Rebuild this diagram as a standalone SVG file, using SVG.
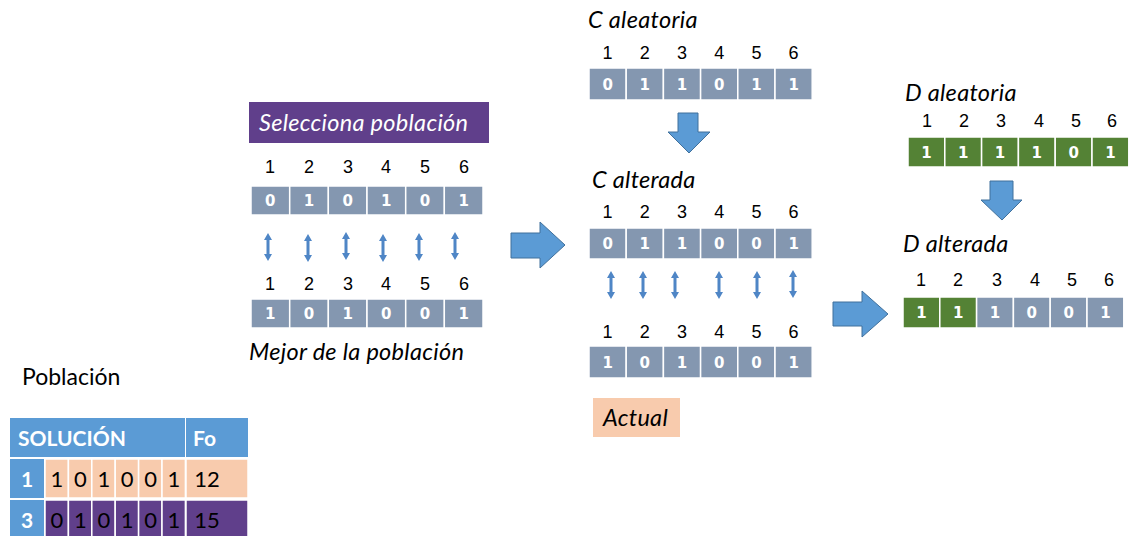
<svg xmlns="http://www.w3.org/2000/svg" xmlns:xlink="http://www.w3.org/1999/xlink" width="1130" height="536" viewBox="0 0 1130 536">
<style>
.cell{fill:#8497b0;stroke:#fff;stroke-width:1.5}
.gcell{fill:#548235;stroke:#fff;stroke-width:1.5}
.val{font-family:"DejaVu Sans",sans-serif;font-weight:bold;font-size:15px;fill:#fff;text-anchor:middle}
.idx{font-family:"Liberation Sans",Arial,sans-serif;font-size:18px;fill:#000;text-anchor:middle}
.ital{font-family:Lato,"Liberation Sans",sans-serif;font-style:italic;font-size:23.5px;letter-spacing:0.3px;fill:#000}
.big{fill:#5b9bd5;stroke:#41719c;stroke-width:1}
.dbl{fill:#4f86c6}
.th{font-family:Lato,"Liberation Sans",sans-serif;font-weight:bold;font-size:21px;fill:#fff}
.td{font-family:Lato,"Liberation Sans",sans-serif;font-size:22px;fill:#000;text-anchor:middle}
</style>
<defs>
<path id="da" d="M0,0 L4,7 L1.5,7 L1.5,21 L4,21 L0,28 L-4,21 L-1.5,21 L-1.5,7 L-4,7 Z"/>
</defs>
<rect width="1130" height="536" fill="#fff"/>

<g id="selecciona">
<rect x="249" y="102" width="240" height="41" fill="#603f8b"/>
<text x="259" y="131" class="ital" style="fill:#fff">Selecciona población</text>
</g>

<g id="array-seleccion">
<g class="idx"><text x="270" y="173">1</text><text x="309" y="173">2</text><text x="348" y="173">3</text><text x="386" y="173">4</text><text x="425" y="173">5</text><text x="464" y="173">6</text></g>
<rect class="cell" x="251" y="186" width="38.7" height="29"/><rect class="cell" x="289.7" y="186" width="38.7" height="29"/><rect class="cell" x="328.3" y="186" width="38.7" height="29"/><rect class="cell" x="367" y="186" width="38.7" height="29"/><rect class="cell" x="405.7" y="186" width="38.7" height="29"/><rect class="cell" x="444.3" y="186" width="38.7" height="29"/>
<g class="val"><text x="270.3" y="206">0</text><text x="309" y="206">1</text><text x="347.7" y="206">0</text><text x="386.3" y="206">1</text><text x="425" y="206">0</text><text x="463.7" y="206">1</text></g>
</g>

<g id="array-mejor">
<g class="idx"><text x="270" y="290">1</text><text x="309" y="290">2</text><text x="348" y="290">3</text><text x="386" y="290">4</text><text x="425" y="290">5</text><text x="464" y="290">6</text></g>
<rect class="cell" x="251" y="299" width="38.7" height="29"/><rect class="cell" x="289.7" y="299" width="38.7" height="29"/><rect class="cell" x="328.3" y="299" width="38.7" height="29"/><rect class="cell" x="367" y="299" width="38.7" height="29"/><rect class="cell" x="405.7" y="299" width="38.7" height="29"/><rect class="cell" x="444.3" y="299" width="38.7" height="29"/>
<g class="val"><text x="270.3" y="319">1</text><text x="309" y="319">0</text><text x="347.7" y="319">1</text><text x="386.3" y="319">0</text><text x="425" y="319">0</text><text x="463.7" y="319">1</text></g>
<text x="249" y="360" class="ital">Mejor de la población</text>
</g>

<g id="c-aleatoria">
<text x="588" y="28" class="ital">C aleatoria</text>
<g class="idx"><text x="607.6" y="59">1</text><text x="644.8" y="59">2</text><text x="682" y="59">3</text><text x="719.2" y="59">4</text><text x="756.4" y="59">5</text><text x="793.6" y="59">6</text></g>
<rect class="cell" x="589" y="68" width="37.2" height="32"/><rect class="cell" x="626.2" y="68" width="37.2" height="32"/><rect class="cell" x="663.4" y="68" width="37.2" height="32"/><rect class="cell" x="700.6" y="68" width="37.2" height="32"/><rect class="cell" x="737.8" y="68" width="37.2" height="32"/><rect class="cell" x="775" y="68" width="37.2" height="32"/>
<g class="val"><text x="607.6" y="89.5">0</text><text x="644.8" y="89.5">1</text><text x="682" y="89.5">1</text><text x="719.2" y="89.5">0</text><text x="756.4" y="89.5">1</text><text x="793.6" y="89.5">1</text></g>
</g>

<g id="c-alterada">
<text x="592" y="188" class="ital">C alterada</text>
<g class="idx"><text x="607.6" y="218">1</text><text x="644.8" y="218">2</text><text x="682" y="218">3</text><text x="719.2" y="218">4</text><text x="756.4" y="218">5</text><text x="793.6" y="218">6</text></g>
<rect class="cell" x="589" y="228" width="37.2" height="31"/><rect class="cell" x="626.2" y="228" width="37.2" height="31"/><rect class="cell" x="663.4" y="228" width="37.2" height="31"/><rect class="cell" x="700.6" y="228" width="37.2" height="31"/><rect class="cell" x="737.8" y="228" width="37.2" height="31"/><rect class="cell" x="775" y="228" width="37.2" height="31"/>
<g class="val"><text x="607.6" y="249">0</text><text x="644.8" y="249">1</text><text x="682" y="249">1</text><text x="719.2" y="249">0</text><text x="756.4" y="249">0</text><text x="793.6" y="249">1</text></g>
</g>

<g id="actual-array">
<g class="idx"><text x="607.6" y="338">1</text><text x="644.8" y="338">2</text><text x="682" y="338">3</text><text x="719.2" y="338">4</text><text x="756.4" y="338">5</text><text x="793.6" y="338">6</text></g>
<rect class="cell" x="589" y="346" width="37.2" height="32"/><rect class="cell" x="626.2" y="346" width="37.2" height="32"/><rect class="cell" x="663.4" y="346" width="37.2" height="32"/><rect class="cell" x="700.6" y="346" width="37.2" height="32"/><rect class="cell" x="737.8" y="346" width="37.2" height="32"/><rect class="cell" x="775" y="346" width="37.2" height="32"/>
<g class="val"><text x="607.6" y="367.5">1</text><text x="644.8" y="367.5">0</text><text x="682" y="367.5">1</text><text x="719.2" y="367.5">0</text><text x="756.4" y="367.5">0</text><text x="793.6" y="367.5">1</text></g>
</g>

<g id="actual">
<rect x="593" y="398" width="87" height="39" fill="#f8cbad"/>
<text x="603" y="426" class="ital">Actual</text>
</g>

<g id="d-aleatoria">
<text x="905" y="101" class="ital">D aleatoria</text>
<g class="idx"><text x="927" y="127">1</text><text x="964" y="127">2</text><text x="1001" y="127">3</text><text x="1039" y="127">4</text><text x="1076" y="127">5</text><text x="1112" y="127">6</text></g>
<rect class="gcell" x="908" y="137" width="36.8" height="30"/><rect class="gcell" x="944.8" y="137" width="36.8" height="30"/><rect class="gcell" x="981.6" y="137" width="36.8" height="30"/><rect class="gcell" x="1018.4" y="137" width="36.8" height="30"/><rect class="gcell" x="1055.2" y="137" width="36.8" height="30"/><rect class="gcell" x="1092" y="137" width="36.8" height="30"/>
<g class="val"><text x="926.4" y="157.5">1</text><text x="963.2" y="157.5">1</text><text x="1000" y="157.5">1</text><text x="1036.8" y="157.5">1</text><text x="1073.6" y="157.5">0</text><text x="1110.4" y="157.5">1</text></g>
</g>

<g id="d-alterada">
<text x="903" y="252" class="ital">D alterada</text>
<g class="idx"><text x="921" y="286">1</text><text x="958" y="286">2</text><text x="997" y="286">3</text><text x="1035" y="286">4</text><text x="1072" y="286">5</text><text x="1109" y="286">6</text></g>
<rect class="gcell" x="903" y="297" width="36.8" height="31"/><rect class="gcell" x="939.8" y="297" width="36.8" height="31"/><rect class="cell" x="976.6" y="297" width="36.8" height="31"/><rect class="cell" x="1013.4" y="297" width="36.8" height="31"/><rect class="cell" x="1050.2" y="297" width="36.8" height="31"/><rect class="cell" x="1087" y="297" width="36.8" height="31"/>
<g class="val"><text x="921.4" y="318">1</text><text x="958.2" y="318">1</text><text x="995" y="318">1</text><text x="1031.8" y="318">0</text><text x="1068.6" y="318">0</text><text x="1105.4" y="318">1</text></g>
</g>

<g id="poblacion">
<text x="22" y="385" style="font-family:Lato,'Liberation Sans',sans-serif;font-size:23px;fill:#000">Población</text>
<rect x="10" y="418" width="175" height="39" fill="#5b9bd5"/>
<rect x="186" y="418" width="62" height="39" fill="#5b9bd5"/>
<text x="18" y="446" class="th">SOLUCIÓN</text>
<text x="193" y="446" class="th">Fo</text>
<rect x="10" y="459" width="34" height="39" fill="#5b9bd5"/>
<g fill="#f8cbad" stroke="#fff" stroke-width="1.5">
<rect x="45" y="459" width="23.4" height="39"/><rect x="68.4" y="459" width="23.4" height="39"/><rect x="91.8" y="459" width="23.4" height="39"/><rect x="115.2" y="459" width="23.4" height="39"/><rect x="138.6" y="459" width="23.4" height="39"/><rect x="162" y="459" width="23.4" height="39"/><rect x="186" y="459" width="62" height="39"/>
</g>
<text x="21" y="487" class="th">1</text>
<g class="td"><text x="57" y="487">1</text><text x="80.4" y="487">0</text><text x="103.8" y="487">1</text><text x="127.2" y="487">0</text><text x="150.6" y="487">0</text><text x="174" y="487">1</text><text x="207" y="487">12</text></g>
<rect x="10" y="500" width="34" height="36" fill="#5b9bd5"/>
<g fill="#603f8b" stroke="#fff" stroke-width="1.5">
<rect x="45" y="500" width="23.4" height="40"/><rect x="68.4" y="500" width="23.4" height="40"/><rect x="91.8" y="500" width="23.4" height="40"/><rect x="115.2" y="500" width="23.4" height="40"/><rect x="138.6" y="500" width="23.4" height="40"/><rect x="162" y="500" width="23.4" height="40"/><rect x="186" y="500" width="62" height="40"/>
</g>
<text x="21" y="528" class="th">3</text>
<g class="td"><text x="57" y="528">0</text><text x="80.4" y="528">1</text><text x="103.8" y="528">0</text><text x="127.2" y="528">1</text><text x="150.6" y="528">0</text><text x="174" y="528">1</text><text x="207" y="528">15</text></g>
</g>

<g id="connectors">
<polygon class="big" points="511,233 540,233 540,222 565,245 540,268 540,258 511,258"/>
<polygon class="big" points="833,302 862,302 862,291 888,314 862,337 862,326 833,326"/>
<polygon class="big" points="678,113 698,113 698,132 710,132 689,153 668,132 678,132"/>
<polygon class="big" points="990,181 1013,181 1013,200 1022,200 1002,220 981,200 990,200"/>
<g class="dbl">
<use xlink:href="#da" x="268" y="233"/><use xlink:href="#da" x="308" y="234"/><use xlink:href="#da" x="346" y="232"/><use xlink:href="#da" x="383" y="234"/><use xlink:href="#da" x="419" y="233"/><use xlink:href="#da" x="455" y="232"/>
<use xlink:href="#da" x="611" y="271"/><use xlink:href="#da" x="643" y="271"/><use xlink:href="#da" x="675" y="271"/><use xlink:href="#da" x="719" y="271"/><use xlink:href="#da" x="757" y="271"/><use xlink:href="#da" x="793" y="270"/>
</g>
</g>
</svg>
